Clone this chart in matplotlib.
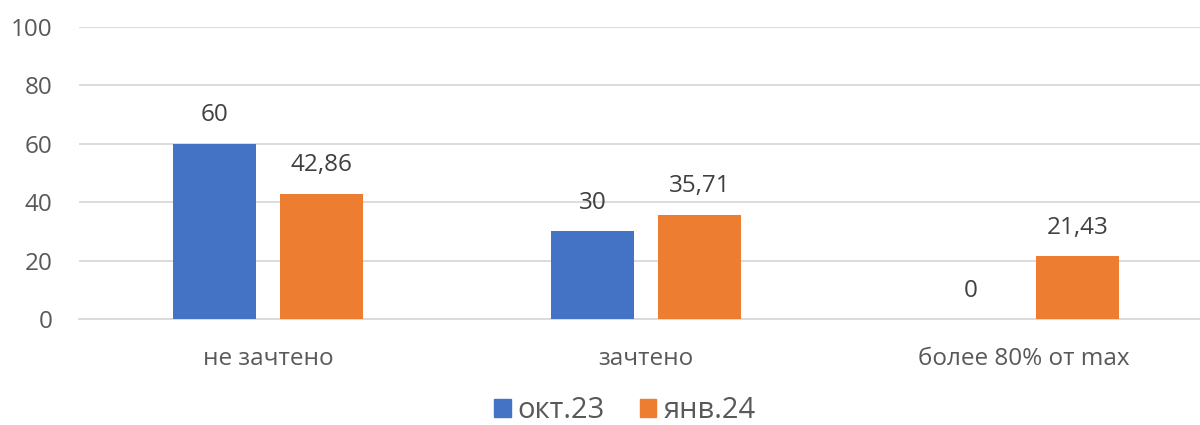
import matplotlib
matplotlib.use("Agg")
import matplotlib.pyplot as plt
import numpy as np
from matplotlib.patches import Patch

categories = ["не зачтено", "зачтено", "более 80% от max"]
series_names = ["окт.23", "янв.24"]
oct23 = [60, 30, 0]
jan24 = [42.86, 35.71, 21.43]
labels_oct = ["60", "30", "0"]
labels_jan = ["42,86", "35,71", "21,43"]
yticks = [0, 20, 40, 60, 80, 100]

colors = ["#4472C4", "#ED7D31"]
tick_color = "#595959"
label_color = "#404040"

plt.rcParams['font.family'] = ['Open Sans', 'DejaVu Sans']

fig = plt.figure(figsize=(12, 4.25), dpi=100)
ax = fig.add_axes([79/1200, 106/425, 1134/1200, 292/425])

x = np.arange(len(categories))
w = 0.222
off = 0.1415
b1 = ax.bar(x - off, oct23, w, color=colors[0], zorder=3)
b2 = ax.bar(x + off, jan24, w, color=colors[1], zorder=3)

for bars, labs in ((b1, labels_oct), (b2, labels_jan)):
    for rect, lab in zip(bars, labs):
        ax.annotate(lab, (rect.get_x() + rect.get_width()/2, rect.get_height()),
                    xytext=(0, 20.5), textcoords="offset points", ha="center", va="center",
                    fontsize=17.5, color=label_color)

ax.set_xlim(-0.5, len(categories) - 0.5)
ax.set_ylim(0, 100)
ax.set_yticks(yticks)
ax.set_yticklabels([str(t) for t in yticks], fontsize=17.5, color=tick_color)
ax.set_xticks(x)
ax.set_xticklabels(categories, fontsize=17.5, color=tick_color)
ax.tick_params(axis='both', length=0)
ax.tick_params(axis='y', pad=19)
ax.tick_params(axis='x', pad=20)
ax.grid(axis='y', color="#D9D9D9", linewidth=1.3, zorder=0)
for s in ["top", "right", "left"]:
    ax.spines[s].set_visible(False)
ax.spines["bottom"].set_color("#D9D9D9")
ax.spines["bottom"].set_linewidth(1.3)

handles = [Patch(color=c) for c in colors]
fig.legend(handles, series_names, loc="center", bbox_to_anchor=(625/1200, 1 - 411/425),
           ncol=2, frameon=False, fontsize=21, labelcolor=tick_color,
           handlelength=0.55, handleheight=0.55, handletextpad=0.25, columnspacing=1.2)

fig.savefig("out.png", dpi=100)
